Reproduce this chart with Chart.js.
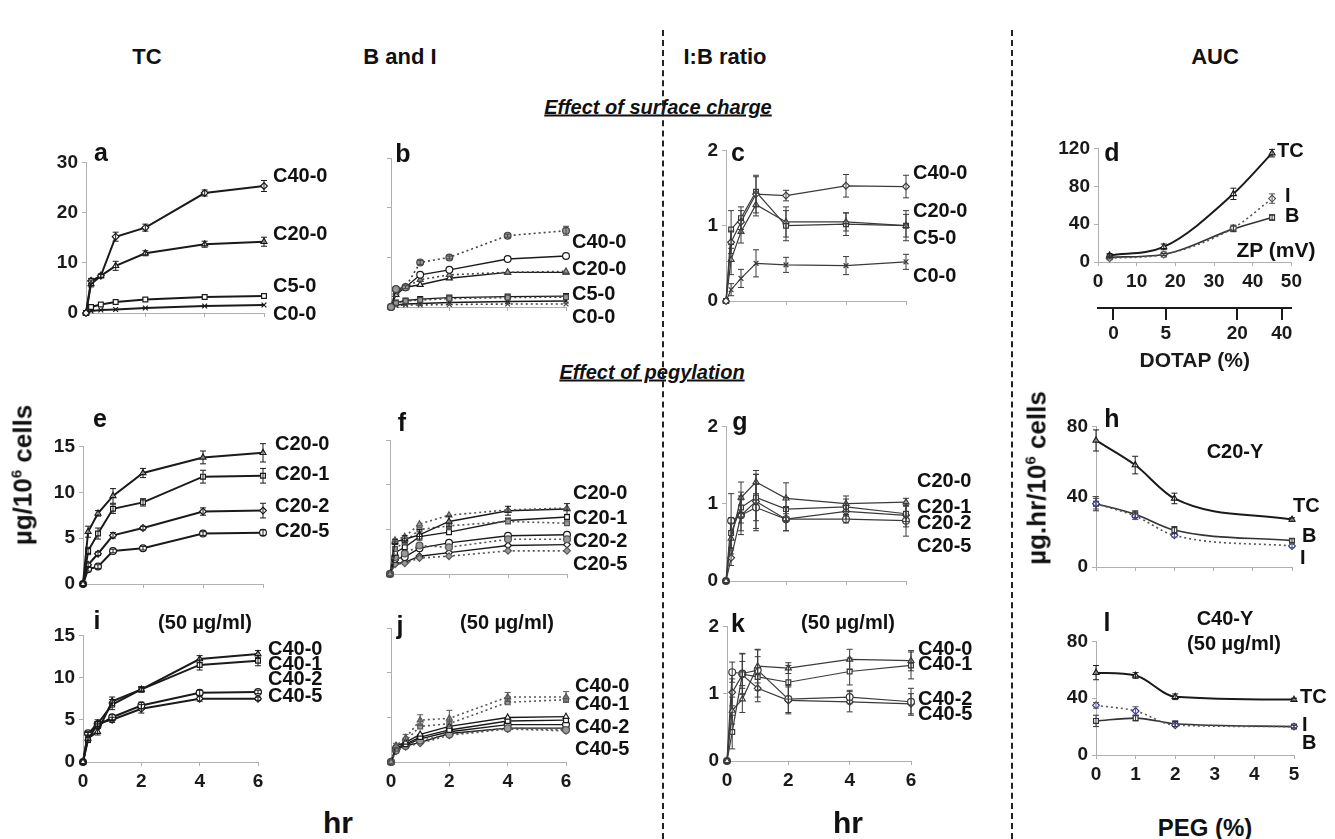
<!DOCTYPE html>
<html>
<head>
<meta charset="utf-8">
<script src="https://cdn.jsdelivr.net/npm/chart.js@4.4.0/dist/chart.umd.min.js"></script>
<style>
body { margin:0; background:#fff; width:1335px; height:839px; position:relative; overflow:hidden;
       font-family:"Liberation Sans", Arial, sans-serif; }
canvas { position:absolute; }
.t { position:absolute; transform:translate(-50%,-50%); font-weight:bold; color:#111; white-space:nowrap; }
.l { position:absolute; transform:translate(0,-50%); font-weight:bold; color:#111; white-space:nowrap; font-size:20px; }
.dash { position:absolute; top:30px; bottom:0; width:0; border-left:2px dashed #222; }
.eff { font-style:italic; text-decoration:underline; font-size:20px; }
.yt { position:absolute; transform:translate(-50%,-50%) rotate(-90deg); font-weight:bold; font-size:26px; color:#111; white-space:nowrap; }
</style>
</head>
<body>
<script>
// sampling times (hr) and PEG / zeta potential levels
const hrs = [0, 0.17, 0.5, 1, 2, 4, 6];
const peg = [0, 1, 2, 5];
const zp = [3, 17, 35, 45];
const dotapAt = [4, 17.5, 36, 47.5];
const dotapLabels = ['0', '5', '20', '40'];

const surfNames = ['C40-0', 'C20-0', 'C5-0', 'C0-0'];
const peg20Names = ['C20-0', 'C20-1', 'C20-2', 'C20-5'];
const peg40Names = ['C40-0', 'C40-1', 'C40-2', 'C40-5'];

// a - total cell association, surface charge
const aC40 = [0, 6.4, 7.4, 15.2, 17.0, 23.9, 25.3];
const aC20 = [0, 5.8, 7.4, 9.4, 11.9, 13.7, 14.2];
const aC5 = [0, 1.2, 1.7, 2.2, 2.7, 3.2, 3.4];
const aC0 = [0, 0.4, 0.6, 0.7, 1.0, 1.4, 1.6];
const aC40err = [0, 0.5, 0.4, 0.9, 0.7, 0.6, 1.1];
const aC20err = [0, 0.6, 0.3, 0.9, 0.5, 0.6, 0.9];

// b - bound (B, solid) and internalised (I, dotted)
const bC40B = [0, 3.6, 4.0, 6.5, 7.5, 9.7, 10.3];
const bC40I = [0, 3.6, 4.0, 9.0, 10.0, 14.4, 15.4];
const bC20B = [0, 2.5, 4.0, 4.5, 5.8, 7.0, 7.0];
const bC20I = [0, 3.0, 4.0, 5.5, 6.5, 7.0, 7.2];
const bC5B = [0, 0.9, 1.3, 1.6, 1.9, 2.1, 2.2];
const bC5I = [0, 0.8, 1.2, 1.4, 1.7, 1.9, 2.0];
const bC0B = [0, 0.4, 0.6, 0.7, 0.9, 1.1, 1.2];
const bC0I = [0, 0.3, 0.4, 0.4, 0.5, 0.6, 0.6];
const bC40Ierr = [0, 0, 0.3, 0.4, 0.3, 0.3, 0.9];

// c - I:B ratio, surface charge
const cC40 = [0, 0.78, 1.05, 1.42, 1.40, 1.53, 1.52];
const cC20 = [0, 0.55, 0.92, 1.28, 1.05, 1.05, 1.00];
const cC5 = [0, 0.95, 1.10, 1.45, 1.00, 1.02, 1.00];
const cC0 = [0, 0.15, 0.30, 0.50, 0.48, 0.47, 0.52];
const cC40err = [0, 0.15, 0.15, 0.25, 0.07, 0.15, 0.15];
const cC20err = [0, 0.2, 0.15, 0.15, 0.2, 0.12, 0.15];
const cC5err = [0, 0.25, 0.15, 0.2, 0.2, 0.15, 0.2];
const cC0err = [0, 0.08, 0.12, 0.18, 0.1, 0.12, 0.1];

// d - AUC vs zeta potential
const dTC = [7, 16, 72, 115];
const dI = [4, 8, 36, 67];
const dB = [5, 8, 35, 47];
const dTCerr = [2, 3, 6, 4];
const dIerr = [1, 1, 3, 5];
const dBerr = [1, 1, 3, 3];

// e - total cell association, pegylation (C20)
const eC0 = [0, 5.7, 7.7, 9.6, 12.1, 13.8, 14.3];
const eC1 = [0, 3.6, 5.5, 8.2, 8.9, 11.7, 11.8];
const eC2 = [0, 2.1, 3.3, 5.3, 6.1, 7.9, 8.0];
const eC5 = [0, 1.6, 1.9, 3.6, 3.9, 5.5, 5.6];
const eC0err = [0, 0.6, 0.3, 0.8, 0.5, 0.7, 1.0];
const eC1err = [0, 0.4, 0.6, 0.5, 0.4, 0.7, 0.8];
const eC2err = [0, 0.2, 0.2, 0.3, 0.2, 0.4, 0.8];
const eC5err = [0, 0.2, 0.2, 0.2, 0.2, 0.2, 0.3];

// f - B and I, pegylation (C20)
const fC0B = [0, 3.6, 3.9, 4.4, 5.9, 7.1, 7.3];
const fC0I = [0, 3.8, 4.2, 5.6, 6.6, 7.2, 7.4];
const fC1B = [0, 2.4, 3.0, 4.2, 4.7, 6.0, 6.4];
const fC1I = [0, 2.8, 3.6, 5.0, 5.4, 5.9, 5.7];
const fC2B = [0, 1.7, 1.9, 2.9, 3.5, 4.3, 4.4];
const fC2I = [0, 1.9, 2.3, 3.2, 3.0, 3.9, 3.9];
const fC5B = [0, 1.2, 1.3, 2.0, 2.4, 3.2, 3.3];
const fC5I = [0, 1.1, 1.2, 1.8, 2.0, 2.6, 2.6];
const fC0err = [0, 0.3, 0.4, 0.6, 0.6, 0.5, 0.6];

// g - I:B ratio, pegylation (C20)
const gC0 = [0, 0.55, 1.08, 1.28, 1.07, 1.00, 1.02];
const gC1 = [0, 0.62, 0.95, 1.08, 0.93, 0.96, 0.87];
const gC2 = [0, 0.30, 0.85, 1.03, 0.80, 0.90, 0.85];
const gC5 = [0, 0.78, 0.85, 0.95, 0.80, 0.80, 0.78];
const gC0err = [0, 0.2, 0.2, 0.15, 0.2, 0.1, 0.05];
const gC1err = [0, 0.2, 0.2, 0.3, 0.15, 0.1, 0.1];
const gC2err = [0, 0.1, 0.25, 0.35, 0.15, 0.1, 0.15];
const gC5err = [0, 0.35, 0.2, 0.3, 0.15, 0.05, 0.2];

// h - AUC vs PEG (C20-Y)
const hTC = [72, 58, 39, 27];
const hB = [36, 30, 21, 15];
const hI = [36, 29, 18, 12];
const hTCerr = [6, 5, 3, 1];
const hBerr = [4, 2, 2, 1];
const hIerr = [3, 2, 1, 1];

// i - total cell association, C40 at 50 ug/ml
const iC0 = [0, 2.8, 3.6, 7.2, 8.6, 12.2, 12.8];
const iC1 = [0, 2.6, 4.5, 6.8, 8.6, 11.5, 12.0];
const iC2 = [0, 3.4, 4.3, 5.3, 6.7, 8.2, 8.3];
const iC5 = [0, 3.3, 4.6, 5.0, 6.3, 7.5, 7.5];
const iC0err = [0, 0.3, 0.4, 0.5, 0.3, 0.4, 0.4];
const iC1err = [0, 0.3, 0.5, 0.6, 0.3, 0.6, 0.6];
const iC2err = [0, 0.2, 0.3, 0.3, 0.4, 0.3, 0.2];
const iC5err = [0, 0.2, 0.2, 0.3, 0.5, 0.3, 0.2];

// j - B and I, C40 at 50 ug/ml
const jC0B = [0, 1.8, 2.2, 3.1, 4.0, 5.0, 5.1];
const jC0I = [0, 1.8, 2.7, 4.7, 4.9, 7.3, 7.3];
const jC1B = [0, 1.6, 2.0, 2.8, 3.6, 4.6, 4.7];
const jC1I = [0, 1.5, 2.4, 4.0, 4.3, 6.7, 7.0];
const jC2B = [0, 1.5, 1.9, 2.6, 3.4, 4.2, 4.2];
const jC2I = [0, 1.3, 1.8, 2.4, 3.1, 3.8, 3.6];
const jC5B = [0, 1.4, 1.8, 2.2, 3.2, 3.8, 3.8];
const jC5I = [0, 1.2, 1.7, 2.1, 3.0, 3.7, 3.5];
const jC0Ierr = [0, 0.3, 0.4, 0.6, 0.9, 0.5, 0.6];

// k - I:B ratio, C40 at 50 ug/ml
const kC0 = [0, 0.75, 0.92, 1.41, 1.38, 1.51, 1.49];
const kC1 = [0, 0.43, 1.29, 1.25, 1.17, 1.33, 1.42];
const kC2 = [0, 1.32, 1.30, 1.35, 0.92, 0.95, 0.88];
const kC5 = [0, 1.02, 1.28, 1.08, 0.90, 0.88, 0.85];
const kC0err = [0, 0.2, 0.2, 0.25, 0.08, 0.15, 0.15];
const kC1err = [0, 0.25, 0.3, 0.3, 0.25, 0.2, 0.2];
const kC2err = [0, 0.15, 0.3, 0.3, 0.2, 0.1, 0.2];
const kC5err = [0, 0.2, 0.2, 0.2, 0.2, 0.15, 0.15];

// l - AUC vs PEG (C40-Y, 50 ug/ml)
const lTC = [58, 56, 41, 39];
const lI = [35, 31, 21, 20];
const lB = [24, 26, 22, 20];
const lTCerr = [5, 2, 2, 1];
const lIerr = [2, 3, 1, 1];
const lBerr = [4, 2, 2, 1];

const INK = '#1a1a1a';
const AXIS = '#b0b0b0';
const BLUE = '#3838a8';
const tickFont = { family: '"Liberation Sans", Arial, sans-serif', size: 19, weight: 'bold' };

// draws vertical error bars from dataset.err
const errBars = {
  id: 'errBars',
  afterDatasetsDraw(chart) {
    const ctx = chart.ctx;
    const ys = chart.scales.y;
    chart.data.datasets.forEach((ds, di) => {
      if (!ds.err) return;
      const meta = chart.getDatasetMeta(di);
      ctx.save();
      ctx.strokeStyle = ds.borderColor;
      ctx.lineWidth = 1;
      ctx.setLineDash([]);
      meta.data.forEach((pt, i) => {
        const e = ds.err[i];
        if (!e) return;
        const v = ds.data[i].y;
        const y1 = ys.getPixelForValue(v - e), y2 = ys.getPixelForValue(v + e);
        ctx.beginPath();
        ctx.moveTo(pt.x, y1); ctx.lineTo(pt.x, y2);
        ctx.moveTo(pt.x - 3, y1); ctx.lineTo(pt.x + 3, y1);
        ctx.moveTo(pt.x - 3, y2); ctx.lineTo(pt.x + 3, y2);
        ctx.stroke();
      });
      ctx.restore();
    });
  }
};

function ser(xs, vals, style, opt) {
  opt = opt || {};
  const col = opt.col || INK;
  return {
    data: xs.map((x, i) => ({ x: x, y: vals[i] })),
    err: opt.err || null,
    borderColor: col,
    borderWidth: opt.w || 1.6,
    borderDash: opt.dot ? [2, 3] : [],
    pointStyle: style,
    pointRadius: 3.4,
    pointBorderWidth: 1.2,
    pointBorderColor: opt.pc || col,
    pointBackgroundColor: opt.fill || '#fff',
    cubicInterpolationMode: opt.smooth ? 'monotone' : 'default',
    tension: 0,
    clip: false
  };
}

function panel(box, datasets, o) {
  const YW = 50, PT = 12, PR = 14;
  const XH = o.xh || 34;
  const extra = o.x2h || 0;
  const w = box[2] - box[0] + YW + PR;
  const h = box[3] - box[1] + PT + XH + extra;
  const cv = document.createElement('canvas');
  cv.width = w; cv.height = h;
  cv.style.left = (box[0] - YW) + 'px';
  cv.style.top = (box[1] - PT) + 'px';
  cv.style.width = w + 'px'; cv.style.height = h + 'px';
  document.body.appendChild(cv);

  const scales = {
    x: {
      type: 'linear', min: o.xmin || 0, max: o.xmax,
      afterFit: s => { s.height = XH; },
      border: { color: AXIS, width: 1 },
      grid: { drawOnChartArea: false, color: AXIS, tickLength: 4 },
      ticks: {
        stepSize: o.xstep, font: tickFont, color: INK, padding: 4,
        callback: v => o.showX ? v : ''
      }
    },
    y: {
      min: 0, max: o.ymax,
      afterFit: s => { s.width = YW; },
      border: { color: AXIS, width: 1 },
      grid: { drawOnChartArea: false, color: AXIS, tickLength: 4 },
      ticks: {
        stepSize: o.ystep, font: tickFont, color: INK, padding: 4,
        callback: v => o.hideY ? '' : v
      }
    }
  };
  if (o.x2h) {
    scales.x2 = {
      type: 'linear', position: 'bottom', min: 0, max: o.xmax,
      afterFit: s => { s.height = o.x2h; },
      afterBuildTicks: s => { s.ticks = dotapAt.map(v => ({ value: v })); },
      border: { color: INK, width: 2 },
      grid: { drawOnChartArea: false, color: INK, lineWidth: 2, tickLength: 12 },
      ticks: { autoSkip: false, font: tickFont, color: INK, padding: 2,
               callback: (v, i) => dotapLabels[i] },
      title: { display: true, text: 'DOTAP (%)', font: { family: tickFont.family, size: 21, weight: 'bold' },
               color: INK, padding: 0 }
    };
  }

  new Chart(cv, {
    type: 'line',
    data: { datasets: datasets },
    options: {
      responsive: false, animation: false, devicePixelRatio: 1,
      layout: { padding: { top: PT, right: PR, left: 0, bottom: 0 } },
      plugins: { legend: { display: false }, tooltip: { enabled: false } },
      scales: scales
    },
    plugins: [errBars]
  });
}

function txt(s, x, y, size, cls) {
  const d = document.createElement('div');
  d.className = cls || 't';
  d.innerHTML = s;
  d.style.left = x + 'px'; d.style.top = y + 'px';
  if (size) d.style.fontSize = size + 'px';
  document.body.appendChild(d);
  return d;
}
function names(list, x, ys) {
  list.forEach((n, i) => txt(n, x, ys[i], 20, 'l'));
}

const thin = { w: 1.2, col: '#3a3a3a' };
const grayFill = '#9a9a9a';

// ---- row 1: surface charge ----
panel([86, 159, 264, 313], [
  ser(hrs, aC40, 'rectRot', { err: aC40err, w: 2 }),
  ser(hrs, aC20, 'triangle', { err: aC20err, w: 2 }),
  ser(hrs, aC5, 'rect', { w: 2 }),
  ser(hrs, aC0, 'crossRot', { w: 2 })
], { xmax: 6, xstep: 2, ymax: 30, ystep: 10 });

panel([391, 155, 566, 307], [
  ser(hrs, bC40I, 'circle', { dot: true, err: bC40Ierr, fill: grayFill, col: '#444' }),
  ser(hrs, bC40B, 'circle', { w: 1.4 }),
  ser(hrs, bC20I, 'triangle', { dot: true, fill: grayFill, col: '#444' }),
  ser(hrs, bC20B, 'triangle', { w: 1.4 }),
  ser(hrs, bC5I, 'rect', { dot: true, fill: grayFill, col: '#444' }),
  ser(hrs, bC5B, 'rect', { w: 1.4 }),
  ser(hrs, bC0I, 'crossRot', { dot: true, col: '#444' }),
  ser(hrs, bC0B, 'crossRot', { w: 1.4 })
], { xmax: 6, xstep: 2, ymax: 30, ystep: 10, hideY: true });

panel([726, 147, 906, 301], [
  ser(hrs, cC40, 'rectRot', Object.assign({ err: cC40err }, thin)),
  ser(hrs, cC20, 'triangle', Object.assign({ err: cC20err }, thin)),
  ser(hrs, cC5, 'rect', Object.assign({ err: cC5err }, thin)),
  ser(hrs, cC0, 'crossRot', Object.assign({ err: cC0err }, thin))
], { xmax: 6, xstep: 2, ymax: 2, ystep: 1 });

panel([1098, 145, 1292, 262], [
  ser(zp, dI, 'rectRot', { dot: true, smooth: true, err: dIerr, col: '#555' }),
  ser(zp, dTC, 'triangle', { smooth: true, err: dTCerr, w: 2 }),
  ser(zp, dB, 'rect', { smooth: true, err: dBerr, w: 1.6, col: '#333' })
], { xmax: 50, xstep: 10, ymax: 120, ystep: 40, showX: true, xh: 46, x2h: 66 });

// ---- row 2: pegylation (C20) ----
panel([83, 443, 263, 584], [
  ser(hrs, eC0, 'triangle', { err: eC0err, w: 2 }),
  ser(hrs, eC1, 'rect', { err: eC1err, w: 2 }),
  ser(hrs, eC2, 'rectRot', { err: eC2err, w: 2 }),
  ser(hrs, eC5, 'circle', { err: eC5err, w: 2 })
], { xmax: 6, xstep: 2, ymax: 15, ystep: 5 });

panel([390, 437, 567, 574], [
  ser(hrs, fC0I, 'triangle', { dot: true, col: '#555', fill: grayFill }),
  ser(hrs, fC0B, 'triangle', { w: 1.4, err: fC0err }),
  ser(hrs, fC1I, 'rect', { dot: true, col: '#555', fill: grayFill }),
  ser(hrs, fC1B, 'rect', { w: 1.4 }),
  ser(hrs, fC2I, 'circle', { dot: true, col: '#555', fill: grayFill }),
  ser(hrs, fC2B, 'circle', { w: 1.4 }),
  ser(hrs, fC5I, 'rectRot', { dot: true, col: '#555', fill: grayFill }),
  ser(hrs, fC5B, 'rectRot', { w: 1.4 })
], { xmax: 6, xstep: 2, ymax: 15, ystep: 5, hideY: true });

panel([726, 423, 906, 581], [
  ser(hrs, gC0, 'triangle', Object.assign({ err: gC0err }, thin)),
  ser(hrs, gC1, 'rect', Object.assign({ err: gC1err }, thin)),
  ser(hrs, gC2, 'rectRot', Object.assign({ err: gC2err }, thin)),
  ser(hrs, gC5, 'circle', Object.assign({ err: gC5err }, thin))
], { xmax: 6, xstep: 2, ymax: 2, ystep: 1 });

panel([1096, 423, 1292, 567], [
  ser(peg, hI, 'rectRot', { dot: true, smooth: true, err: hIerr, col: '#555', pc: BLUE }),
  ser(peg, hTC, 'triangle', { smooth: true, err: hTCerr, w: 2 }),
  ser(peg, hB, 'rect', { smooth: true, err: hBerr, w: 1.6, col: '#333' })
], { xmax: 5, xstep: 1, ymax: 80, ystep: 40 });

// ---- row 3: pegylation (C40, 50 ug/ml) ----
panel([83, 632, 258, 762], [
  ser(hrs, iC0, 'triangle', { err: iC0err, w: 2 }),
  ser(hrs, iC1, 'rect', { err: iC1err, w: 2 }),
  ser(hrs, iC2, 'circle', { err: iC2err, w: 2 }),
  ser(hrs, iC5, 'rectRot', { err: iC5err, w: 2 })
], { xmax: 6, xstep: 2, ymax: 15, ystep: 5, showX: true });

panel([391, 625, 566, 762], [
  ser(hrs, jC0I, 'triangle', { dot: true, err: jC0Ierr, col: '#555', fill: grayFill }),
  ser(hrs, jC0B, 'triangle', { w: 1.4 }),
  ser(hrs, jC1I, 'rect', { dot: true, col: '#555', fill: grayFill }),
  ser(hrs, jC1B, 'rect', { w: 1.4 }),
  ser(hrs, jC2I, 'circle', { dot: true, col: '#555', fill: grayFill }),
  ser(hrs, jC2B, 'circle', { w: 1.4 }),
  ser(hrs, jC5I, 'rectRot', { dot: true, col: '#555', fill: grayFill }),
  ser(hrs, jC5B, 'rectRot', { w: 1.4 })
], { xmax: 6, xstep: 2, ymax: 15, ystep: 5, hideY: true, showX: true });

panel([727, 623, 911, 761], [
  ser(hrs, kC0, 'triangle', Object.assign({ err: kC0err }, thin)),
  ser(hrs, kC1, 'rect', Object.assign({ err: kC1err }, thin)),
  ser(hrs, kC2, 'circle', Object.assign({ err: kC2err }, thin)),
  ser(hrs, kC5, 'rectRot', Object.assign({ err: kC5err }, thin))
], { xmax: 6, xstep: 2, ymax: 2, ystep: 1, showX: true });

panel([1096, 638, 1294, 755], [
  ser(peg, lI, 'rectRot', { dot: true, smooth: true, err: lIerr, col: '#555', pc: BLUE }),
  ser(peg, lTC, 'triangle', { smooth: true, err: lTCerr, w: 2 }),
  ser(peg, lB, 'rect', { smooth: true, err: lBerr, w: 1.6, col: '#333' })
], { xmax: 5, xstep: 1, ymax: 80, ystep: 40, showX: true });

// ---- text ----
['TC', 'B and I', 'I:B ratio', 'AUC'].forEach((s, i) => txt(s, [147, 400, 725, 1215][i], 57, 22));
txt('Effect of surface charge', 658, 107, null, 't eff');
txt('Effect of pegylation', 652, 372, null, 't eff');

const letters = ['a', 'b', 'c', 'd', 'e', 'f', 'g', 'h', 'i', 'j', 'k', 'l'];
const letterPos = [[101, 152], [403, 153], [738, 152], [1112, 152], [100, 418], [402, 422],
                   [740, 421], [1112, 418], [97, 620], [400, 625], [738, 623], [1107, 622]];
letters.forEach((s, i) => txt(s, letterPos[i][0], letterPos[i][1], 25));

names(surfNames, 273, [175, 233, 285, 313]);
names(surfNames, 572, [241, 268, 293, 316]);
names(surfNames, 913, [172, 210, 237, 275]);
names(peg20Names, 275, [443, 473, 505, 530]);
names(peg20Names, 573, [492, 517, 540, 563]);
names(peg20Names, 917, [480, 506, 522, 545]);
names(peg40Names, 268, [648, 663, 678, 695]);
names(peg40Names, 575, [685, 703, 726, 748]);
names(peg40Names, 918, [648, 663, 698, 713]);

txt('TC', 1277, 150, 20, 'l'); txt('I', 1285, 195, 20, 'l'); txt('B', 1285, 215, 20, 'l');
txt('ZP (mV)', 1276, 250, 21);
txt('C20-Y', 1235, 451, 20);
txt('TC', 1293, 505, 20, 'l'); txt('B', 1302, 535, 20, 'l'); txt('I', 1300, 557, 20, 'l');
txt('C40-Y', 1225, 618, 20);
txt('(50 µg/ml)', 1234, 643, 20);
txt('TC', 1300, 696, 20, 'l'); txt('I', 1302, 724, 20, 'l'); txt('B', 1302, 742, 20, 'l');
[205, 507, 848].forEach(x => txt('(50 µg/ml)', x, 622, 20));

txt('hr', 338, 823, 30);
txt('hr', 848, 823, 30);
txt('PEG (%)', 1205, 828, 24);
txt('µg/10<sup style="font-size:15px">6</sup> cells', 23, 475, null, 'yt');
txt('µg.hr/10<sup style="font-size:15px">6</sup> cells', 1037, 478, null, 'yt');

[662, 1011].forEach(x => {
  const d = document.createElement('div');
  d.className = 'dash';
  d.style.left = x + 'px';
  document.body.appendChild(d);
});
</script>
</body>
</html>
